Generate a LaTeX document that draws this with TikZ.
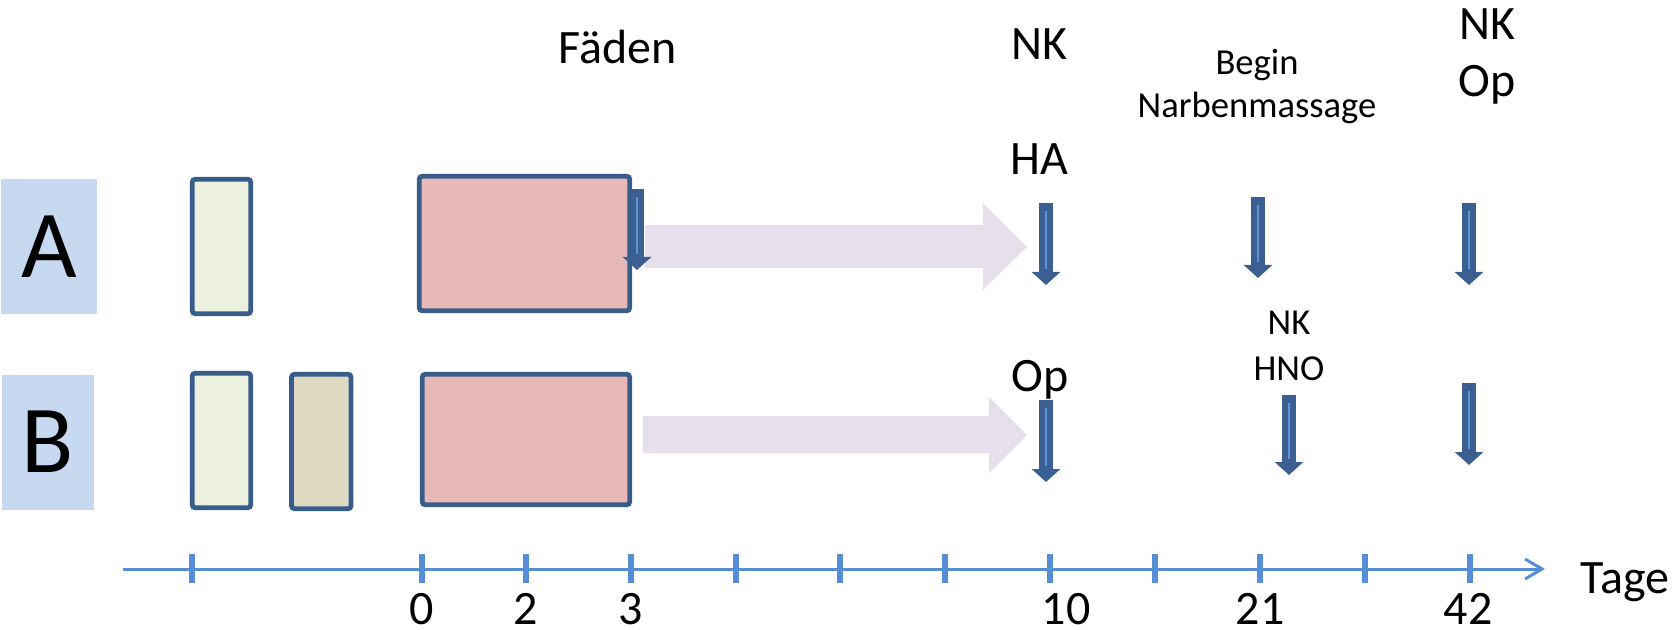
\documentclass[tikz,border=0pt]{standalone}
\usepackage{fontspec}
\setmainfont{Carlito}
\usepackage{xcolor}
\usepackage{tikz}
\usetikzlibrary{arrows.meta,positioning}
\definecolor{rimblue}{HTML}{385D8A}
\definecolor{groupblue}{HTML}{C6D9F1}
\definecolor{greenfill}{HTML}{EBF1DE}
\definecolor{tanfill}{HTML}{DDD9C3}
\definecolor{pinkfill}{HTML}{E6B9B8}
\definecolor{lavender}{HTML}{E5E0EC}
\definecolor{axisblue}{HTML}{558ED5}
\definecolor{eventblue}{HTML}{3B5F91}
\definecolor{eventlight}{HTML}{5F93D8}
\tikzstyle{group} = [rectangle, fill=groupblue, inner sep=0pt, minimum height=67.5pt, font=\fontsize{48}{58}\selectfont]
\tikzstyle{phase} = [rectangle, rounded corners=1.5pt, draw=rimblue, line width=2.4pt, inner sep=0pt, minimum width=29.25pt, minimum height=67.25pt]
\tikzstyle{daytext} = [anchor=base, inner sep=0pt, font=\fontsize{24}{29}\selectfont]
\tikzstyle{notetext} = [anchor=base, inner sep=0pt, font=\fontsize{18.3}{22}\selectfont]
\tikzstyle{eventarrow} = [draw=eventblue, line width=7pt, -{Triangle[width=14pt,length=6.5pt]}]
\tikzstyle{eventline} = [draw=eventlight, line width=1pt]
\tikzstyle{flow} = [fill=lavender]
\tikzstyle{timeline} = [draw=axisblue, line width=1.5pt, -{Straight Barb[length=8.5pt,width=10pt]}]
\tikzstyle{daytick} = [draw=axisblue, line width=3pt]

\begin{document}
\begin{tikzpicture}[x=0.5pt, y=-0.5pt]
\useasboundingbox (0,0) rectangle (1673,630);

%==============================================
%Gruppen A und B
%==============================================
\node (grpA) [group, minimum width=48pt] at (49,246.5) {A};
\node (grpB) [group, minimum width=46pt] at (48,442) {B};

%Pfeile Faeden -> Tag 10==========================
\fill [flow] (645,225) -- (983,225) -- (983,203) -- (1027,247) -- (983,290) -- (983,268) -- (645,268) -- cycle;
\fill [flow] (643,416) -- (989,416) -- (989,397) -- (1027,435) -- (989,473) -- (989,453) -- (643,453) -- cycle;

%Zeile A==============================================
\node (greenA) [phase, fill=greenfill] at (221.5,246.5) {};
\node (pinkA) [phase, fill=pinkfill, minimum width=105.25pt] at (524.5,243.5) {};

%Zeile B==============================================
\node (greenB) [phase, fill=greenfill] at (221.5,440.5) {};
\node (tanB) [phase, fill=tanfill, minimum width=29.75pt, right=18pt of greenB, yshift=-0.5pt] {};
\node (pinkB) [phase, fill=pinkfill, minimum width=103.75pt, minimum height=65.25pt] at (526,439.5) {};

%Ereignisse==============================================
\foreach \x/\top/\tip in {637/189/270, 1046/203/285, 1258/197/278, 1469/203/285,
                          1046/400/482, 1289/395/475, 1469/383/465} {
	\draw [eventarrow] (\x,\top) -- (\x,\tip);
	\draw [eventline] (\x,\top+8) -- (\x,\tip-16);
}

%Texte==============================================
\node (faeden) [daytext] at (618,64) {Fäden};
\node (nkA) [daytext] at (1039,60) {NK};
\node (ha) [daytext] at (1039,175) {HA};
\node (begin) [notetext] at (1257,75) {Begin};
\node (massage) [notetext] at (1257,118) {Narbenmassage};
\node (nkEnd) [daytext] at (1487,40) {NK};
\node (opEnd) [daytext] at (1487,97) {Op};
\node (opB) [daytext] at (1040,391) {Op};
\node (nkB) [notetext] at (1289,335) {NK};
\node (hno) [notetext] at (1289,380) {HNO};

%Zeitachse==============================================
\draw [timeline] (123,569) -- (1545,569);
\foreach \x in {192,422,526,631,736,840,945,1050,1155,1260,1365,1470}
	\draw [daytick] (\x,554) -- (\x,583);
\foreach \x/\d in {422/0, 526/2, 631/3, 1066/10, 1260/21, 1468/42}
	\node [daytext] at (\x,624) {\d};
\node (tage) [daytext] at (1625,593) {Tage};
\end{tikzpicture}
\end{document}
